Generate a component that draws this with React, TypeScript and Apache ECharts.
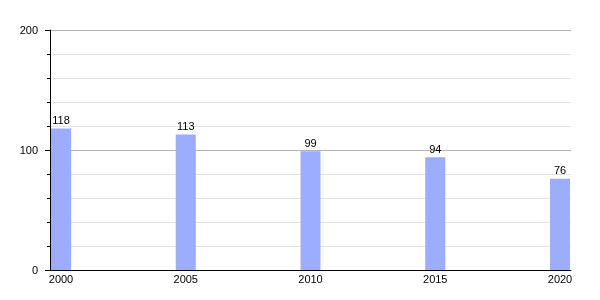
import React, { useEffect, useRef } from "react";
import * as echarts from "echarts";

const years = [2000, 2005, 2010, 2015, 2020];
const values = [118, 113, 99, 94, 76];
const yTicks = [0, 100, 200];

export default function App() {
  const ref = useRef<HTMLDivElement>(null);
  useEffect(() => {
    if (!ref.current) return;
    const chart = echarts.init(ref.current, undefined, { renderer: "svg" });
    const font = "'Liberation Sans', Arial, sans-serif";
    chart.setOption({
      animation: false,
      grid: [
        { left: 50, right: 29, top: 30, bottom: 30 },
        { left: 61, right: 40, top: 30, bottom: 30 },
      ],
      xAxis: [
        {
          gridIndex: 0,
          type: "value",
          min: 0,
          max: 1,
          axisLine: { show: true, onZero: false, lineStyle: { color: "#000", width: 1 } },
          axisTick: { show: false },
          axisLabel: { show: false },
          splitLine: { show: false },
        },
        {
          gridIndex: 1,
          type: "value",
          min: years[0],
          max: years[years.length - 1],
          interval: 5,
          axisLine: { show: false },
          axisTick: { show: false },
          splitLine: { show: false },
          axisLabel: {
            color: "#000",
            fontSize: 11,
            fontFamily: font,
            margin: 3,
            formatter: (v: number) => String(v),
          },
        },
      ],
      yAxis: [
        {
          gridIndex: 0,
          type: "value",
          min: yTicks[0],
          max: yTicks[yTicks.length - 1],
          interval: 100,
          axisLine: { show: true, lineStyle: { color: "#000", width: 1 } },
          axisTick: { show: true, length: 5, lineStyle: { color: "#000" } },
          minorTick: { show: true, splitNumber: 5, length: 3, lineStyle: { color: "#000" } },
          axisLabel: { color: "#000", fontSize: 11, fontFamily: font, margin: 12 },
          splitLine: { show: true, lineStyle: { color: "#b4b4b4", width: 1 } },
          minorSplitLine: { show: true, lineStyle: { color: "#e2e2e2", width: 1 } },
        },
        {
          gridIndex: 1,
          type: "value",
          min: yTicks[0],
          max: yTicks[yTicks.length - 1],
          show: false,
        },
      ],
      series: [
        {
          type: "bar",
          xAxisIndex: 1,
          yAxisIndex: 1,
          barWidth: 20,
          data: years.map((y, i) => [y, values[i]]),
          itemStyle: { color: "#9cadff" },
          label: {
            show: true,
            position: "top",
            distance: 3,
            color: "#000",
            fontSize: 11,
            fontFamily: font,
            formatter: (p: any) => String(p.value[1]),
          },
        },
      ],
    });
    return () => chart.dispose();
  }, []);
  return (
    <div
      ref={ref}
      style={{ position: "fixed", left: 0, top: 0, width: 600, height: 300 }}
    />
  );
}
